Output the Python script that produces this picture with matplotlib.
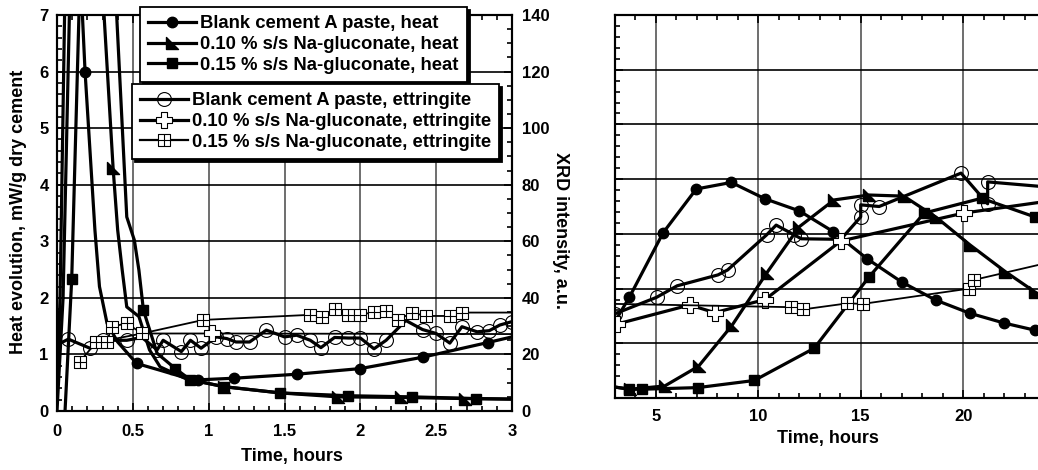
import numpy as np
import matplotlib
matplotlib.use('Agg')
import matplotlib.pyplot as plt
from matplotlib.path import Path
from matplotlib.lines import Line2D
from matplotlib.ticker import MultipleLocator, FormatStrFormatter, NullFormatter

plt.rcParams['font.family'] = ['Liberation Sans', 'DejaVu Sans']
plt.rcParams['font.weight'] = 'bold'

labels_heat = ['Blank cement A paste, heat',
               '0.10 % s/s Na-gluconate, heat',
               '0.15 % s/s Na-gluconate, heat']
labels_ett = ['Blank cement A paste, ettringite',
              '0.10 % s/s Na-gluconate, ettringite',
              '0.15 % s/s Na-gluconate, ettringite']

# ---- first 3 hours: heat flow (mW/g) ----
t0_heat_blank = [0.0, 0.02, 0.08, 0.185, 0.25, 0.28, 0.33, 0.40, 0.525, 0.68, 0.83, 0.93,
                 1.17, 1.58, 2.0, 2.41, 2.84, 3.0]
q0_heat_blank = [0.3, 2.0, 12.0, 6.0, 3.2, 2.2, 1.55, 1.22, 0.84, 0.72, 0.60, 0.55,
                 0.58, 0.65, 0.75, 0.95, 1.21, 1.31]
t0_heat_010 = [0.0, 0.04, 0.09, 0.2, 0.37, 0.40, 0.43, 0.46, 0.54, 0.61, 0.68, 0.85,
               1.10, 1.47, 1.85, 2.27, 2.69, 3.0]
q0_heat_010 = [0.0, 2.0, 8.0, 12.0, 4.29, 3.2, 2.49, 1.84, 1.67, 1.08, 0.78, 0.57,
               0.43, 0.32, 0.25, 0.24, 0.22, 0.21]
t0_heat_015 = [0.053, 0.097, 0.16, 0.30, 0.46, 0.51, 0.54, 0.57, 0.66, 0.78, 0.88,
               1.10, 1.47, 1.92, 2.34, 2.76, 3.0]
q0_heat_015 = [0.0, 2.33, 8.5, 12.0, 3.43, 3.02, 2.49, 1.78, 1.02, 0.75, 0.55,
               0.43, 0.32, 0.27, 0.25, 0.22, 0.21]

# ---- first 3 hours: ettringite XRD intensity (a.u.) ----
t0_ett_blank = [0.0, 0.075, 0.217, 0.30, 0.46, 0.56, 0.66, 0.70, 0.82, 0.88, 0.95, 1.05,
                1.12, 1.18, 1.27, 1.38, 1.50, 1.58, 1.67, 1.74, 1.83, 1.92, 2.0, 2.09,
                2.17, 2.30, 2.41, 2.50, 2.59, 2.67, 2.77, 2.85, 2.92, 3.0]
i0_ett_blank = [23.4, 25.4, 22.2, 25.0, 25.0, 26.0, 21.6, 25.0, 21.0, 25.0, 22.2, 26.2,
                25.6, 24.4, 24.4, 28.6, 26.2, 26.8, 25.0, 22.4, 26.0, 25.8, 25.8, 22.0,
                25.0, 32.0, 28.8, 27.4, 24.0, 29.8, 28.0, 28.4, 30.4, 31.6]
t0_ett_010 = [0.33, 0.56, 1.02, 3.0]
i0_ett_010 = [25.0, 27.4, 27.4, 27.2]
t0_ett_015 = [0.15, 0.26, 0.33, 0.36, 0.46, 0.56, 0.965, 1.67, 1.75, 1.83, 1.92, 2.0,
              2.09, 2.17, 2.25, 2.34, 2.43, 2.59, 2.67, 3.0]
i0_ett_015 = [17.4, 24.4, 24.4, 29.8, 31.0, 27.4, 32.2, 34.0, 33.2, 36.2, 34.0, 34.0,
              35.0, 35.4, 32.2, 34.8, 33.6, 33.6, 34.8, 34.8]

# ---- 3 to 24 hours ----
t1_heat_blank = [3.0, 3.70, 5.35, 6.97, 8.68, 10.33, 12.0, 13.66, 15.33, 17.0, 18.66,
                 20.32, 22.0, 23.5, 24.0]
q1_heat_blank = [1.40, 1.84, 3.02, 3.82, 3.94, 3.64, 3.42, 3.04, 2.54, 2.12, 1.79,
                 1.55, 1.37, 1.24, 1.20]
t1_heat_010 = [3.0, 3.73, 5.43, 7.08, 8.72, 10.4, 12.0, 13.7, 15.4, 17.1, 18.7,
               20.33, 22.06, 23.5, 24.0]
q1_heat_010 = [0.20, 0.16, 0.22, 0.58, 1.33, 2.28, 3.13, 3.62, 3.71, 3.69, 3.30,
               2.80, 2.31, 1.94, 1.83]
t1_heat_015 = [3.0, 3.7, 4.3, 7.05, 9.8, 12.73, 15.4, 18.1, 20.9, 23.5, 24.0]
q1_heat_015 = [0.20, 0.16, 0.16, 0.19, 0.32, 0.91, 2.21, 3.38, 3.65, 3.31, 3.20]

t1_ett_blank = [3.0, 5.03, 6.03, 8.03, 8.5, 10.4, 10.87, 11.76, 12.1, 14.03, 15.0, 15.0,
                15.9, 19.9, 21.2, 21.2, 24.0]
i1_ett_blank = [30.8, 36.8, 41.0, 45.0, 46.8, 59.6, 63.2, 59.6, 58.2, 58.0, 66.2, 70.6,
                70.0, 82.2, 71.0, 79.0, 77.2]
t1_ett_010 = [3.08, 6.65, 7.87, 10.33, 14.03, 20.03, 24.0]
i1_ett_010 = [27.0, 34.0, 31.2, 36.0, 57.4, 67.6, 71.8]
t1_ett_015 = [3.0, 11.6, 12.2, 14.35, 15.1, 20.3, 20.55, 24.0]
i1_ett_015 = [34.4, 33.2, 32.4, 34.6, 34.4, 40.0, 43.2, 49.2]

# custom marker shapes
tri = Path([(-1, 1), (-1, -1), (1, -1), (-1, 1)],
           [Path.MOVETO, Path.LINETO, Path.LINETO, Path.CLOSEPOLY])
a = 1 / 3
plus = Path([(-a, 1), (a, 1), (a, a), (1, a), (1, -a), (a, -a), (a, -1), (-a, -1),
             (-a, -a), (-1, -a), (-1, a), (-a, a), (-a, 1)], closed=True)
boxplus = Path([(-1, -1), (1, -1), (1, 1), (-1, 1), (-1, -1), (0, -1), (0, 1), (-1, 0), (1, 0)],
               [Path.MOVETO, Path.LINETO, Path.LINETO, Path.LINETO, Path.CLOSEPOLY,
                Path.MOVETO, Path.LINETO, Path.MOVETO, Path.LINETO])

LW = 2.3
s_heat = [dict(marker='o', ms=7.5, mfc='k', mec='k'),
          dict(marker=tri, ms=9, mfc='k', mec='k'),
          dict(marker='s', ms=7, mfc='k', mec='k')]
s_ett = [dict(marker='o', ms=10, mfc='none', mec='k', mew=0.8),
         dict(marker=plus, ms=11, mfc='white', mec='k', mew=0.8),
         dict(marker=boxplus, ms=9, mfc='white', mec='k', mew=0.8)]

W, H = 1038, 470
fig = plt.figure(figsize=(W / 100, H / 100), dpi=100)


def px_axes(l, t, r, b):
    return fig.add_axes([l / W, 1 - b / H, (r - l) / W, (b - t) / H])


def style(ax, xmaj, xmin, top=True):
    ax.set_ylim(0, 7)
    ax.xaxis.set_major_locator(MultipleLocator(xmaj))
    ax.xaxis.set_minor_locator(MultipleLocator(xmin))
    ax.yaxis.set_major_locator(MultipleLocator(1))
    ax.yaxis.set_minor_locator(MultipleLocator(0.2))
    ax.tick_params(which='both', direction='in', top=top, right=False, width=1.2, labelsize=12)
    ax.tick_params(which='major', length=6)
    ax.tick_params(which='minor', length=3.5)
    ax.grid(axis='x', which='major', color='#555555', lw=1.2)
    ax.grid(axis='y', which='major', color='black', lw=1.2)
    ax.set_axisbelow(True)
    for sp in ax.spines.values():
        sp.set_linewidth(1.5)


# ---------- left panel ----------
ax = px_axes(57, 15, 512, 411)
ax2 = ax.twinx()
style(ax, 0.5, 0.1)
ax.set_xlim(0, 3)
ax.xaxis.set_major_formatter(FormatStrFormatter('%g'))
ax.tick_params(axis='x', pad=9)
ax.tick_params(axis='y', pad=6)
ax2.set_ylim(0, 140)
ax2.yaxis.set_major_locator(MultipleLocator(20))
ax2.yaxis.set_minor_locator(MultipleLocator(5))
ax2.tick_params(which='both', direction='in', width=1.2, labelsize=12, pad=7)
ax2.tick_params(which='major', length=6)
ax2.tick_params(which='minor', length=3.5)
for sp in ax2.spines.values():
    sp.set_linewidth(1.5)

ax.plot(t0_heat_blank, q0_heat_blank, color='k', lw=LW, markevery=[3, 8, 11, 12, 13, 14, 15, 16], **s_heat[0])
ax.plot(t0_heat_010, q0_heat_010, color='k', lw=LW, markevery=[4, 12, 14, 15, 16], **s_heat[1])
ax.plot(t0_heat_015, q0_heat_015, color='k', lw=LW, markevery=[1, 7, 9, 10, 11, 12, 13, 14, 15], **s_heat[2])

mk_blank = [i for i in range(len(t0_ett_blank)) if i not in (0, 5, 25)]
ax2.plot(t0_ett_blank, i0_ett_blank, color='k', lw=LW, markevery=mk_blank, **s_ett[0])
ax2.plot(t0_ett_010, i0_ett_010, color='k', lw=1.3, markevery=[2], **s_ett[1])
ax2.plot(t0_ett_015, i0_ett_015, color='k', lw=1.3, markevery=list(range(len(t0_ett_015) - 1)), **s_ett[2])

# ---------- right panel ----------
axr = px_axes(615, 15, 1045, 398)
axr2 = axr.twinx()
style(axr, 5, 1)
axr.set_xlim(3, 24)
axr.xaxis.set_major_formatter(FormatStrFormatter('%g'))
axr.yaxis.set_major_formatter(NullFormatter())
axr.tick_params(axis='x', pad=8)
axr2.set_ylim(0, 140)
axr2.set_yticks([])
for sp in axr2.spines.values():
    sp.set_linewidth(1.5)

axr.plot(t1_heat_blank, q1_heat_blank, color='k', lw=LW, markevery=list(range(1, 14)), **s_heat[0])
axr.plot(t1_heat_010, q1_heat_010, color='k', lw=LW, markevery=list(range(1, 14)), **s_heat[1])
axr.plot(t1_heat_015, q1_heat_015, color='k', lw=LW, markevery=list(range(1, 10)), **s_heat[2])

axr2.plot(t1_ett_blank, i1_ett_blank, color='k', lw=LW,
          markevery=[i for i in range(len(t1_ett_blank)) if i not in (9, 16)], **s_ett[0])
axr2.plot(t1_ett_010, i1_ett_010, color='k', lw=LW, markevery=list(range(6)), **s_ett[1])
axr2.plot(t1_ett_015, i1_ett_015, color='k', lw=1.3, markevery=list(range(1, 7)), **s_ett[2])

# ---------- axis titles ----------
fig.text(19 / W, 1 - 212 / H, 'Heat evolution, mW/g dry cement', rotation=90,
         ha='center', va='center', fontsize=13, fontweight='bold')
fig.text(560 / W, 1 - 230 / H, 'XRD intensity, a.u.', rotation=270,
         ha='center', va='center', fontsize=13, fontweight='bold')
fig.text(292 / W, 1 - 456 / H, 'Time, hours', ha='center', va='center',
         fontsize=13, fontweight='bold')
fig.text(828 / W, 1 - 438 / H, 'Time, hours', ha='center', va='center',
         fontsize=13, fontweight='bold')

# ---------- legends ----------
h_heat = [Line2D([], [], color='k', lw=LW, **s) for s in s_heat]
h_ett = [Line2D([], [], color='k', lw=w, **s) for s, w in zip(s_ett, [LW, LW, 1.6])]
leg_kw = dict(loc='upper left', bbox_transform=fig.transFigure, borderaxespad=0,
              fontsize=13.3, handlelength=2.6, handletextpad=0.2, borderpad=0.45,
              labelspacing=0.2, fancybox=False, framealpha=1,
              shadow={'color': 'black', 'alpha': 1})
leg1 = ax2.legend(h_heat, labels_heat, bbox_to_anchor=(140 / W, 1 - 7 / H), **leg_kw)
ax2.add_artist(leg1)
leg2 = ax2.legend(h_ett, labels_ett, bbox_to_anchor=(132 / W, 1 - 84 / H), **leg_kw)
for lg in (leg1, leg2):
    lg.get_frame().set_edgecolor('black')
    lg.get_frame().set_linewidth(1.3)

fig.savefig('out.png', dpi=100)
